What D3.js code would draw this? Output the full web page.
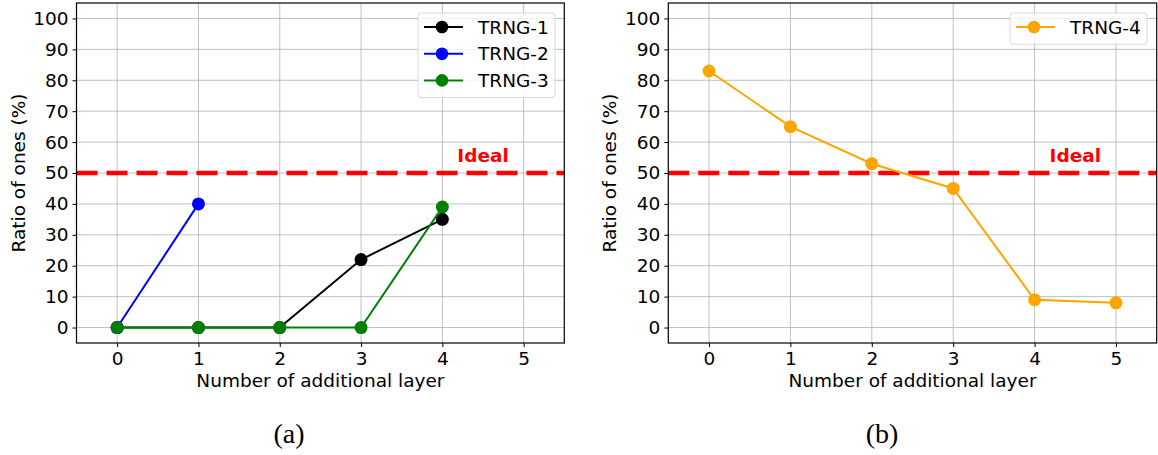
<!DOCTYPE html>
<html>
<head>
<meta charset="utf-8">
<script src="https://cdn.jsdelivr.net/npm/d3@7"></script>
<style>
  body { margin: 0; background: #fff; }
  svg { display: block; }
  text { font-family: "DejaVu Sans", sans-serif; }
</style>
</head>
<body>
<svg id="chart" width="1158" height="455"></svg>
<script>
// Layer counts on the x axis
const layers = [0, 1, 2, 3, 4, 5];
const xTicks = [0, 1, 2, 3, 4, 5];
const yTicks = [0, 10, 20, 30, 40, 50, 60, 70, 80, 90, 100];

// Ratio of ones (%) per TRNG variant
const trng1 = [0, 0, 0, 22, 35];
const trng2 = [0, 40];
const trng3 = [0, 0, 0, 0, 39];
const trng4 = [83, 65, 53, 45, 9, 8];

const idealValue = 50;
const idealLabel = "Ideal";

const FS = 18.5;

const panelA = {
  left: 76.5, right: 564.3, top: 3, bottom: 343,
  caption: "(a)", captionX: 289,
  series: [
    { name: "TRNG-1", color: "#000000", values: trng1 },
    { name: "TRNG-2", color: "#0000ff", values: trng2 },
    { name: "TRNG-3", color: "#008000", values: trng3 }
  ],
  legend: { x: 418, y: 13, w: 137, rowH: 26.7 }
};
const panelB = {
  left: 668.3, right: 1156.7, top: 3, bottom: 343,
  caption: "(b)", captionX: 882,
  series: [
    { name: "TRNG-4", color: "#ffa500", values: trng4 }
  ],
  legend: { x: 1010, y: 13, w: 137, rowH: 26.7 }
};

const svg = d3.select("#chart");

function drawPanel(p) {
  const x = d3.scaleLinear().domain([-0.5, 5.5]).range([p.left, p.right]);
  const y = d3.scaleLinear().domain([-5, 105]).range([p.bottom, p.top]);
  const g = svg.append("g");

  // grid
  g.append("g").selectAll("line").data(xTicks).join("line")
    .attr("x1", d => x(d)).attr("x2", d => x(d))
    .attr("y1", p.top).attr("y2", p.bottom)
    .attr("stroke", "#b0b0b0").attr("stroke-width", 0.8);
  g.append("g").selectAll("line").data(yTicks).join("line")
    .attr("x1", p.left).attr("x2", p.right)
    .attr("y1", d => y(d)).attr("y2", d => y(d))
    .attr("stroke", "#b0b0b0").attr("stroke-width", 0.8);

  // ideal reference line
  g.append("line")
    .attr("x1", p.left).attr("x2", p.right)
    .attr("y1", y(idealValue)).attr("y2", y(idealValue))
    .attr("stroke", "#ff0000").attr("stroke-width", 4.7)
    .attr("stroke-dasharray", "21,9");
  g.append("text")
    .attr("x", x(4.5)).attr("y", y(55) + 4)
    .attr("text-anchor", "middle")
    .attr("fill", "#ff0000").attr("font-weight", "bold")
    .attr("font-size", FS)
    .text(idealLabel);

  // series
  const line = d3.line().x((d, i) => x(layers[i])).y(d => y(d));
  p.series.forEach(s => {
    g.append("path").datum(s.values)
      .attr("d", line).attr("fill", "none")
      .attr("stroke", s.color).attr("stroke-width", 2);
    g.append("g").selectAll("circle").data(s.values).join("circle")
      .attr("cx", (d, i) => x(layers[i])).attr("cy", d => y(d))
      .attr("r", 6.5).attr("fill", s.color);
  });

  // axes
  const xAxis = d3.axisBottom(x).tickValues(xTicks).tickSize(4).tickPadding(5).tickFormat(d3.format("d"));
  const yAxis = d3.axisLeft(y).tickValues(yTicks).tickSize(4).tickPadding(4).tickFormat(d3.format("d"));
  const gx = g.append("g").attr("transform", `translate(0,${p.bottom})`).call(xAxis);
  const gy = g.append("g").attr("transform", `translate(${p.left},0)`).call(yAxis);
  [gx, gy].forEach(a => {
    a.attr("font-size", FS).attr("font-family", "DejaVu Sans");
    a.select(".domain").remove();
    a.selectAll("text").attr("fill", "#000");
    a.selectAll("line").attr("stroke", "#000").attr("stroke-width", 1);
  });

  // frame
  g.append("rect")
    .attr("x", p.left).attr("y", p.top)
    .attr("width", p.right - p.left).attr("height", p.bottom - p.top)
    .attr("fill", "none").attr("stroke", "#000").attr("stroke-width", 1.2);

  // axis labels
  g.append("text")
    .attr("x", (p.left + p.right) / 2).attr("y", 387)
    .attr("text-anchor", "middle").attr("font-size", FS)
    .text("Number of additional layer");
  g.append("text")
    .attr("transform", `translate(${p.left - 52},${(p.top + p.bottom) / 2}) rotate(-90)`)
    .attr("text-anchor", "middle").attr("font-size", FS)
    .text("Ratio of ones (%)");

  // legend
  const L = p.legend;
  const h = p.series.length * L.rowH + 4.5;
  g.append("rect")
    .attr("x", L.x).attr("y", L.y).attr("width", L.w).attr("height", h)
    .attr("rx", 3).attr("fill", "#ffffff").attr("fill-opacity", 0.8)
    .attr("stroke", "#d9d9d9").attr("stroke-width", 1);
  p.series.forEach((s, i) => {
    const cy = L.y + 14 + i * L.rowH;
    g.append("line")
      .attr("x1", L.x + 6).attr("x2", L.x + 45)
      .attr("y1", cy).attr("y2", cy)
      .attr("stroke", s.color).attr("stroke-width", 2);
    g.append("circle").attr("cx", L.x + 24).attr("cy", cy).attr("r", 6.3).attr("fill", s.color);
    g.append("text")
      .attr("x", L.x + 60).attr("y", cy + 6.5)
      .attr("font-size", FS).attr("fill", "#000")
      .text(s.name);
  });

  // subfigure caption
  svg.append("text")
    .attr("x", p.captionX).attr("y", 443)
    .attr("text-anchor", "middle")
    .style("font-family", "'Liberation Serif', 'DejaVu Serif', serif")
    .attr("font-size", 28)
    .text(p.caption);
}

drawPanel(panelA);
drawPanel(panelB);
</script>
</body>
</html>
